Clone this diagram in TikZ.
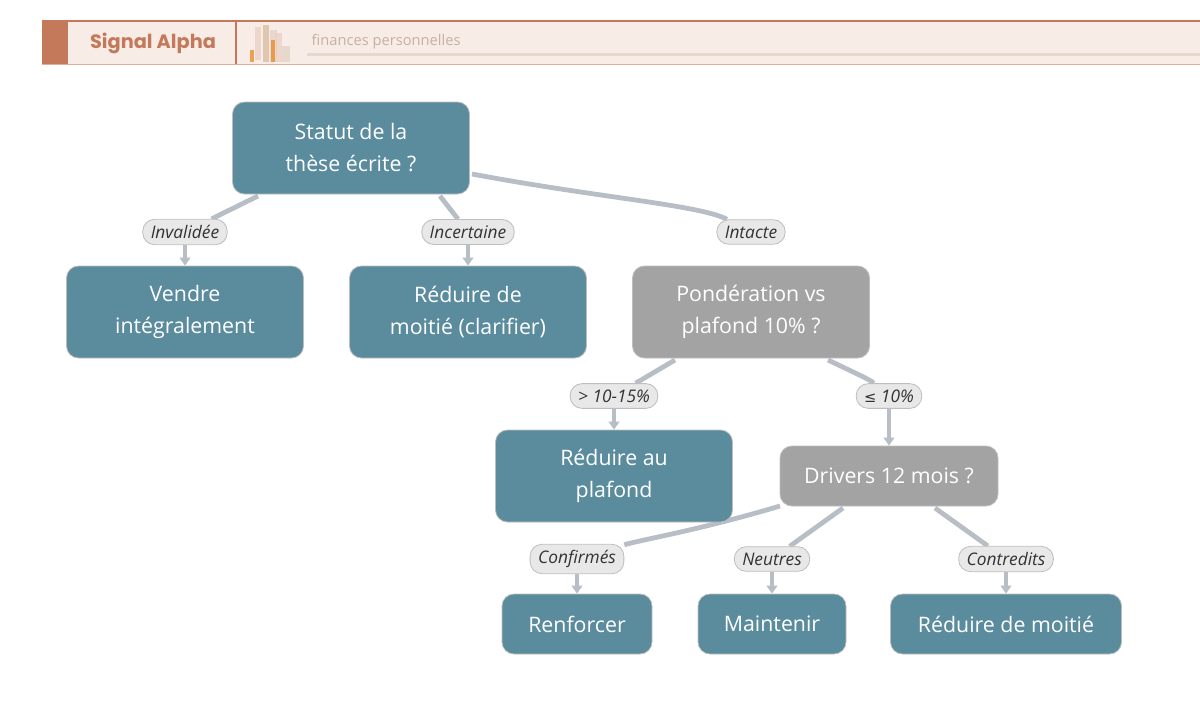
\documentclass[tikz,border=0pt]{standalone}
\usepackage{fontspec}
\setmainfont{Open Sans}
\newfontfamily\poppins{Poppins}
\newfontfamily\djv{DejaVu Sans}
\usetikzlibrary{arrows.meta,backgrounds}
\definecolor{teal}{HTML}{5B8C9E}
\definecolor{gry}{HTML}{A3A3A3}
\definecolor{edge}{HTML}{B8BEC6}
\definecolor{lblf}{HTML}{E8E8E8}
\definecolor{lbld}{HTML}{BDBDBD}
\definecolor{hdr}{HTML}{F7ECE6}
\definecolor{rust}{HTML}{C47A5A}
\definecolor{sub}{HTML}{C8B0A0}
\definecolor{bar}{HTML}{E6D8CC}
\begin{document}
\begin{tikzpicture}[x=0.75pt,y=-0.75pt,
 box/.style={rounded corners=9pt,draw=lbld,line width=0.6pt,text=white,align=center,font=\fontsize{16}{24}\selectfont,inner sep=0pt},
 dec/.style={box,fill=teal},
 q/.style={box,fill=gry},
 lbl/.style={rounded corners=9pt,fill=lblf,draw=lbld,line width=0.6pt,font=\fontsize{13}{15}\selectfont\itshape,text=black!80,inner xsep=6pt,inner ysep=4.5pt},
 ln/.style={draw=edge,line width=3.6pt},
 ar/.style={draw=edge,line width=2.8pt,-{Triangle[length=6pt,width=8pt]}}]
\useasboundingbox (0,0) rectangle (1200,721);
% header
\fill[hdr] (42,21) rectangle (1200,64);
\draw[rust,line width=0.8pt] (42,21) -- (1200,21);
\draw[rust!60,line width=0.5pt] (42,64) -- (1200,64);
\fill[rust] (42,21) rectangle (68,64);
\draw[rust,line width=0.8pt] (236,21) -- (236,64);
\node[font=\poppins\fontsize{14.5}{16}\selectfont,text=rust] (title) at (153,43) {\textbf{Signal Alpha}};
\fill[rust!40,opacity=0.6] (255,27) rectangle (261,60);
\fill[bar!80!brown] (263,25) rectangle (269,62);
\fill[bar] (270,30) rectangle (277,62);
\fill[orange!70!brown,opacity=0.7] (271,40) rectangle (275,62);
\fill[rust!40,opacity=0.6] (276,33) rectangle (282,62);
\fill[bar] (282,46) rectangle (290,62);
\fill[orange!60!brown,opacity=0.7] (250,50) rectangle (254,62);
\node[anchor=west,font=\fontsize{11}{12}\selectfont,text=sub] (subt) at (307,42) {finances personnelles};
\fill[bar] (307,52.5) rectangle (1200,56);
% nodes
\node[dec,minimum width=177.75pt,minimum height=69pt] (root) at (351,148) {Statut de la\\thèse écrite ?};
\node[dec,minimum width=177.75pt,minimum height=69pt] (vend) at (185,312) {Vendre\\intégralement};
\node[dec,minimum width=177.75pt,minimum height=69pt] (clar) at (468,312) {Réduire de\\moitié (clarifier)};
\node[q,minimum width=177.75pt,minimum height=69pt] (pond) at (751,312) {Pondération vs\\plafond 10\% ?};
\node[dec,minimum width=177.75pt,minimum height=69pt] (plaf) at (614,476) {Réduire au\\plafond};
\node[q,minimum width=163.5pt,minimum height=45pt] (driv) at (889,476) {Drivers 12 mois ?};
\node[dec,minimum width=112.5pt,minimum height=45pt] (renf) at (577,624) {Renforcer};
\node[dec,minimum width=111pt,minimum height=45pt] (main) at (772,624) {Maintenir};
\node[dec,minimum width=173.25pt,minimum height=45pt] (redm) at (1006,624) {Réduire de moitié};
% labels
\node[lbl] (l1) at (185,232) {Invalidée};
\node[lbl] (l2) at (468,232) {Incertaine};
\node[lbl] (l3) at (751,232) {Intacte};
\node[lbl] (l4) at (614,396) {> 10-15\%};
\node[lbl] (l5) at (889,396) {{\djv\upshape\fontsize{11}{12}\selectfont ≤} 10\%};
\node[lbl] (l6) at (577,559) {Confirmés};
\node[lbl] (l7) at (772,559) {Neutres};
\node[lbl] (l8) at (1006,559) {Contredits};
% connectors
\begin{scope}[on background layer]
\draw[ln] (258,196) -- (l1);
\draw[ln] (440,196) -- (l2);
\draw[ln] (472,174) .. controls (600,198) and (700,205) .. (l3);
\draw[ln] (675,360) -- (l4);
\draw[ln] (828,360) .. controls (870,380) .. (l5);
\draw[ln] (780,506) .. controls (700,530) and (640,540) .. (l6);
\draw[ln] (843,508) -- (l7);
\draw[ln] (935,508) -- (l8);
\draw[ar] (l1) -- (vend);
\draw[ar] (l2) -- (clar);
\draw[ar] (l4) -- (plaf);
\draw[ar] (l5.south) .. controls (889,420) .. (driv.north);
\draw[ar] (l6.south) .. controls (577,575) .. (renf.north);
\draw[ar] (l7) -- (main);
\draw[ar] (l8) -- (redm);
\end{scope}
\end{tikzpicture}
\end{document}
